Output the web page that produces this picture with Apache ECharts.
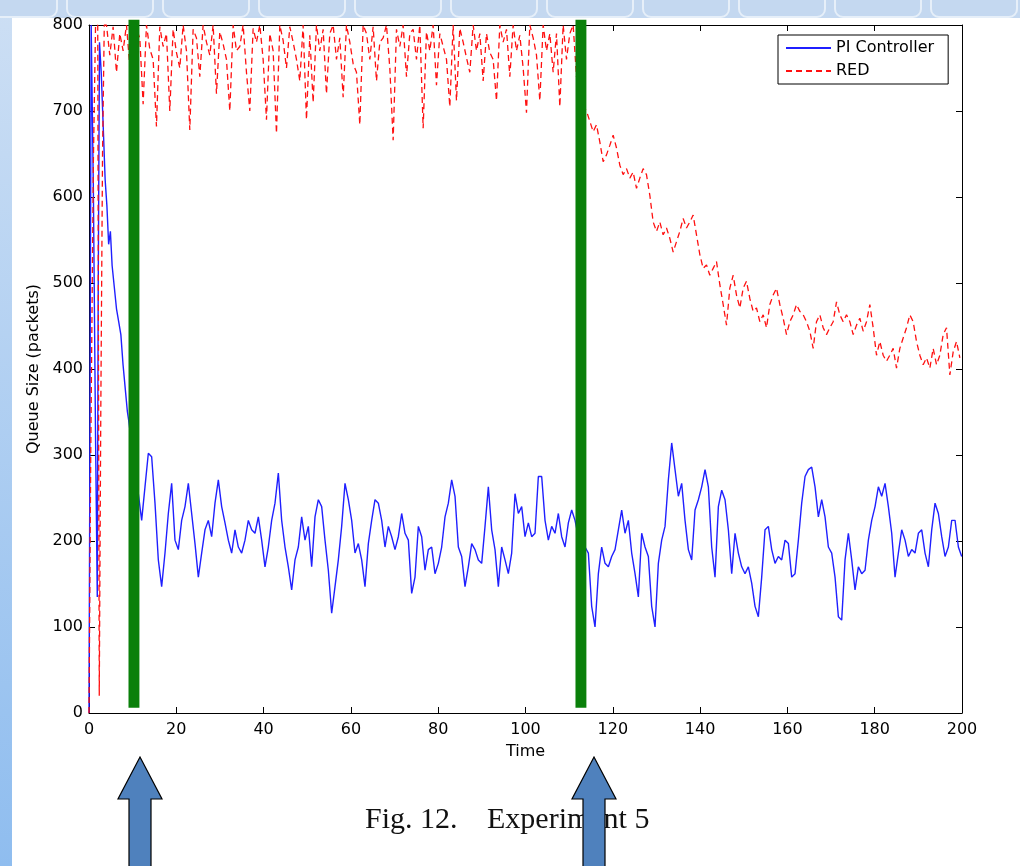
<!DOCTYPE html>
<html>
<head>
<meta charset="utf-8">
<title>Experiment 5</title>
<script src="https://cdn.jsdelivr.net/npm/echarts@6/dist/echarts.min.js"></script>
<style>
  html, body { margin: 0; padding: 0; }
  body { width: 1020px; height: 866px; position: relative; overflow: hidden;
         background: linear-gradient(#cddff4, #8fbdef); }
  #band { position: absolute; left: 0; top: 0; width: 1020px; height: 18px; background: #c4d8f0; overflow: hidden; }
  .tab { position: absolute; top: -8px; width: 84px; height: 22px; border: 2px solid #e6eff9; border-radius: 9px; }
  #panel { position: absolute; left: 12px; top: 18px; width: 1008px; height: 848px; background: #fff; }
  #main { position: absolute; left: 0; top: 0; width: 1020px; height: 866px; }
</style>
</head>
<body>
<div id="band"></div>
<div id="panel"></div>
<div id="main"></div>
<script>
// PI controller: start-up part (explicit times), then a steady part sampled every piStep
var piEarlyTime = [0, 0.2, 0.5, 1.0, 1.5, 1.9, 2.1, 2.4, 2.8, 3.2, 3.7, 4.1, 4.5, 4.9, 5.3, 5.8, 6.3, 6.8, 7.3, 7.8, 8.4, 8.8, 9.1, 9.6, 10.2, 10.8];
var piEarlyQueue = [0, 300, 800, 610, 320, 135, 480, 780, 745, 690, 620, 590, 545, 560, 520, 495, 470, 455, 440, 405, 372, 350, 340, 320, 295, 270];
var piStart = 11.3;
var piStep = 0.7637;
var piQueue = [
  255, 224, 263, 302, 298, 244, 178, 147, 186, 232,
  267, 201, 190, 224, 240, 267, 232, 197, 158, 186,
  213, 224, 205, 244, 271, 240, 221, 201, 186, 213,
  193, 186, 201, 224, 213, 209, 228, 201, 170, 193,
  224, 244, 279, 224, 193, 170, 143, 178, 193, 228,
  201, 217, 170, 228, 248, 240, 201, 166, 116, 147,
  178, 217, 267, 248, 224, 186, 197, 178, 147, 197,
  224, 248, 244, 224, 193, 217, 205, 190, 205, 232,
  209, 201, 139, 158, 217, 205, 166, 190, 193, 162,
  174, 193, 228, 244, 271, 252, 193, 182, 147, 170,
  197, 190, 178, 174, 217, 263, 213, 190, 147, 193,
  178, 162, 186, 255, 232, 240, 205, 221, 205, 209,
  275, 275, 224, 201, 217, 209, 232, 205, 193, 221,
  236, 224, 205, 186, 193, 186, 124, 100, 162, 193,
  174, 170, 182, 190, 213, 236, 209, 224, 186, 162,
  135, 209, 193, 182, 124, 100, 174, 201, 217, 271,
  314, 283, 252, 267, 224, 190, 178, 236, 248, 263,
  283, 263, 193, 158, 240, 259, 248, 213, 162, 209,
  186, 170, 162, 170, 151, 124, 112, 158, 213, 217,
  190, 174, 182, 178, 201, 197, 158, 162, 201, 244,
  275, 283, 286, 263, 228, 248, 228, 193, 186, 158,
  112, 108, 178, 209, 178, 143, 170, 162, 166, 201,
  224, 240, 263, 252, 267, 240, 209, 158, 186, 213,
  201, 182, 190, 186, 209, 213, 186, 170, 213, 244,
  232, 205, 182, 193, 224, 224, 193, 182
];

// RED: start-up part, then sampled every redStep (full buffer, drop, decay)
var redEarlyTime = [0, 0.4, 1.0, 1.5, 2.0, 2.35, 2.7, 3.1, 3.5];
var redEarlyQueue = [0, 300, 640, 800, 800, 20, 350, 650, 800];
var redStart = 4.0;
var redStep = 0.7637;
var redFull = [
  800, 765, 798, 745, 790, 770, 800, 752, 730, 795,
  785, 708, 800, 772, 760, 682, 798, 775, 790, 700,
  795, 768, 750, 800, 770, 678, 795, 785, 740, 800,
  780, 765, 800, 720, 792, 778, 760, 700, 800, 770,
  775, 800, 745, 700, 796, 780, 800, 760, 690, 790,
  770, 674, 800, 782, 750, 798, 780, 760, 735, 800,
  690, 788, 710, 800, 770, 795, 720, 790, 800, 760,
  785, 716, 800, 780, 755, 745, 684, 800, 790, 760,
  798, 735, 780, 785, 800, 750, 666, 795, 775, 800,
  740, 790, 795, 760, 800, 680, 792, 770, 800, 730,
  790, 775, 760, 705, 800, 712, 796, 780, 762, 745,
  800, 770, 790, 735, 790, 768, 760, 712, 800, 780,
  795, 740, 800, 770, 788, 750, 698, 800, 785, 765,
  712, 800, 770, 790, 745, 790, 705, 800
];
var redDrop = [760, 790, 800, 740, 720, 705];
var redDecay = [
  700, 688, 676, 684, 664, 641, 649, 660, 672, 657,
  637, 626, 633, 622, 629, 610, 622, 633, 626, 602,
  571, 560, 571, 556, 564, 552, 536, 548, 560, 575,
  564, 571, 579, 556, 533, 517, 521, 509, 517, 525,
  498, 475, 451, 494, 509, 486, 471, 494, 502, 482,
  467, 471, 455, 463, 448, 475, 486, 494, 475, 459,
  440, 455, 463, 475, 467, 463, 455, 444, 424, 455,
  463, 448, 440, 448, 455, 478, 463, 455, 463, 455,
  440, 451, 459, 444, 455, 475, 448, 416, 432, 416,
  409, 416, 424, 401, 424, 436, 448, 463, 455, 432,
  416, 405, 413, 401, 424, 405, 416, 440, 448, 393,
  420, 432, 413
];

// green markers (time range) and their vertical extent
var greenBarFrom = [9.05, 111.45];
var greenBarTo = [11.55, 113.95];
var greenTop = 806;
var greenBottom = 6;

// axis ranges
var timeMin = 0, timeMax = 200, timeStep = 20;
var queueMin = 0, queueMax = 800, queueStep = 100;

var axisFont = 'DejaVu Sans';

function buildSeries(earlyTime, earlyQueue, start, step, values) {
  var out = [];
  for (var i = 0; i < earlyTime.length; i++) {
    out.push([earlyTime[i], earlyQueue[i]]);
  }
  for (var j = 0; j < values.length; j++) {
    out.push([+(start + j * step).toFixed(3), values[j]]);
  }
  return out;
}

// decorative tabs in the top band
var band = document.getElementById('band');
for (var k = 0; k < 11; k++) {
  var tab = document.createElement('div');
  tab.className = 'tab';
  tab.style.left = (k * 96 - 30) + 'px';
  band.appendChild(tab);
}

var piData = buildSeries(piEarlyTime, piEarlyQueue, piStart, piStep, piQueue);
var redData = buildSeries(redEarlyTime, redEarlyQueue, redStart, redStep, redFull.concat(redDrop, redDecay));
var greenData = [];
for (var g = 0; g < greenBarFrom.length; g++) {
  greenData.push([greenBarFrom[g], greenBarTo[g]]);
}

function xAxisCfg(pos, showLabel) {
  return {
    type: 'value',
    position: pos,
    min: timeMin,
    max: timeMax,
    interval: timeStep,
    axisLine: { onZero: false, lineStyle: { color: '#000', width: 1 } },
    axisTick: { inside: true, length: 6, lineStyle: { color: '#000' } },
    axisLabel: { show: showLabel, color: '#000', fontSize: 16, fontFamily: axisFont, margin: 9 },
    splitLine: { show: false }
  };
}
function yAxisCfg(pos, showLabel) {
  return {
    type: 'value',
    position: pos,
    min: queueMin,
    max: queueMax,
    interval: queueStep,
    axisLine: { onZero: false, lineStyle: { color: '#000', width: 1 } },
    axisTick: { inside: true, length: 6, lineStyle: { color: '#000' } },
    axisLabel: { show: showLabel, color: '#000', fontSize: 16, fontFamily: axisFont, margin: 6 },
    splitLine: { show: false }
  };
}

var xBottom = xAxisCfg('bottom', true);
xBottom.name = 'Time';
xBottom.nameLocation = 'middle';
xBottom.nameGap = 31;
xBottom.nameTextStyle = { color: '#000', fontSize: 16, fontFamily: axisFont };

var yLeft = yAxisCfg('left', true);
yLeft.name = 'Queue Size (packets)';
yLeft.nameLocation = 'middle';
yLeft.nameGap = 44;
yLeft.nameTextStyle = { color: '#000', fontSize: 16, fontFamily: axisFont };

function arrow(cx) {
  // block arrow pointing up at the marker
  return {
    type: 'polygon',
    z: 100,
    shape: { points: [[cx, 757], [cx + 22, 799], [cx + 11, 799], [cx + 11, 872], [cx - 11, 872], [cx - 11, 799], [cx - 22, 799]] },
    style: { fill: '#4f81bd', stroke: '#000', lineWidth: 1.2 }
  };
}

var myChart = echarts.init(document.getElementById('main'), null, { renderer: 'canvas' });
var option = {
  backgroundColor: 'transparent',
  animation: false,
  grid: { left: 89, right: 58, top: 25, bottom: 153, containLabel: false },
  legend: {
    data: ['PI Controller', 'RED'],
    orient: 'vertical',
    left: 778,
    top: 35,
    padding: [5, 14, 5, 7],
    itemGap: 7,
    itemWidth: 45,
    itemHeight: 14,
    itemStyle: { opacity: 0 }, //只显示线, 不要圆点
    backgroundColor: '#fff',
    borderColor: '#000',
    borderWidth: 1,
    borderRadius: 0,
    textStyle: { color: '#000', fontSize: 16, fontFamily: axisFont }
  },
  xAxis: [xBottom, xAxisCfg('top', false)],
  yAxis: [yLeft, yAxisCfg('right', false)],
  series: [
    {
      name: 'PI Controller',
      type: 'line',
      data: piData,
      symbol: 'none',
      lineStyle: { color: '#1f1fff', width: 1.4 },
      itemStyle: { color: '#1f1fff' },
      z: 3
    },
    {
      name: 'RED',
      type: 'line',
      data: redData,
      symbol: 'none',
      lineStyle: { color: '#ff1010', width: 1.3, type: [6, 4] },
      itemStyle: { color: '#ff1010' },
      z: 4
    },
    {
      name: 'markers',
      type: 'custom',
      data: greenData,
      clip: false,
      z: 10,
      encode: { x: [0, 1] },
      renderItem: function (params, api) {
        var p0 = api.coord([api.value(0), greenTop]);
        var p1 = api.coord([api.value(1), greenBottom]);
        return {
          type: 'rect',
          shape: { x: p0[0], y: p0[1], width: p1[0] - p0[0], height: p1[1] - p0[1] },
          style: { fill: '#0a800a' }
        };
      }
    }
  ],
  graphic: [
    {
      type: 'text',
      z: 90,
      left: 365,
      top: 805,
      style: { text: 'Fig. 12.', fill: '#111', font: '30px "Liberation Serif"' }
    },
    {
      type: 'text',
      z: 90,
      left: 487,
      top: 805,
      style: { text: 'Experiment 5', fill: '#111', font: '30px "Liberation Serif"' }
    },
    arrow(140),
    arrow(594)
  ]
};
myChart.setOption(option);
</script>
</body>
</html>
